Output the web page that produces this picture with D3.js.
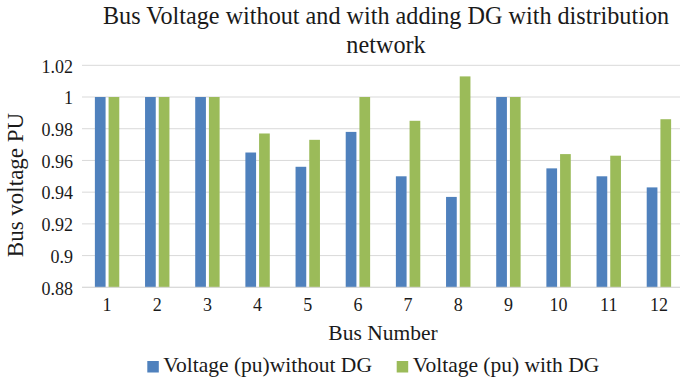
<!DOCTYPE html>
<html>
<head>
<meta charset="utf-8">
<script src="https://cdn.jsdelivr.net/npm/d3@7"></script>
<style>
  body { margin: 0; background: #fff; }
  svg { font-family: "Liberation Serif", "Times New Roman", serif; }
</style>
</head>
<body>
<div id="chart"></div>
<script>
const buses = ["1", "2", "3", "4", "5", "6", "7", "8", "9", "10", "11", "12"];
const withoutDG = [1, 1, 1, 0.965, 0.956, 0.978, 0.95, 0.937, 1, 0.955, 0.95, 0.943];
const withDG = [1, 1, 1, 0.977, 0.973, 1, 0.985, 1.013, 1, 0.964, 0.963, 0.986];
const yTicks = [0.88, 0.9, 0.92, 0.94, 0.96, 0.98, 1, 1.02];
const seriesNames = ["Voltage (pu)without DG", "Voltage (pu) with DG"];
const colors = ["#4f81bd", "#9bbb59"];

const width = 680, height = 382;
const margin = { top: 65.3, right: -4, bottom: 94.7, left: 82 };
const textColor = "#1a1a1a";

const svg = d3.select("#chart").append("svg")
  .attr("width", width)
  .attr("height", height);

const x = d3.scaleBand()
  .domain(buses)
  .range([margin.left, width - margin.right]);

const y = d3.scaleLinear()
  .domain([0.88, 1.02])
  .range([height - margin.bottom, margin.top]);

// gridlines
svg.append("g")
  .selectAll("line")
  .data(yTicks)
  .enter()
  .append("line")
  .attr("x1", margin.left)
  .attr("x2", width - margin.right)
  .attr("y1", d => y(d))
  .attr("y2", d => y(d))
  .attr("stroke", "#d9d9d9")
  .attr("stroke-width", 1);

const barW = 10.7, gap = 3;
const series = [withoutDG, withDG];

series.forEach((vals, s) => {
  svg.append("g")
    .selectAll("rect")
    .data(vals)
    .enter()
    .append("rect")
    .attr("x", (d, i) => x(buses[i]) + x.bandwidth() / 2 - barW - gap / 2 + s * (barW + gap))
    .attr("y", d => y(d))
    .attr("width", barW)
    .attr("height", d => y(0.88) - y(d))
    .attr("fill", colors[s]);
});

// bottom axis line
svg.append("line")
  .attr("x1", margin.left)
  .attr("x2", width - margin.right)
  .attr("y1", y(0.88))
  .attr("y2", y(0.88))
  .attr("stroke", "#d9d9d9")
  .attr("stroke-width", 1);

// y tick labels
const yAxis = svg.append("g")
  .attr("transform", `translate(${margin.left - 6},1)`)
  .call(d3.axisLeft(y).tickValues(yTicks).tickSize(0).tickFormat(d => String(+d.toFixed(2))));
yAxis.select(".domain").remove();
yAxis.selectAll("text")
  .attr("font-family", "Liberation Serif, serif")
  .attr("font-size", 18)
  .attr("fill", textColor);

// x tick labels
const xAxis = svg.append("g")
  .attr("transform", `translate(0,${y(0.88) + 7.5})`)
  .call(d3.axisBottom(x).tickSize(0));
xAxis.select(".domain").remove();
xAxis.selectAll("text")
  .attr("font-family", "Liberation Serif, serif")
  .attr("font-size", 18)
  .attr("fill", textColor);

// title
const title = svg.append("g")
  .attr("font-size", 24.2)
  .attr("fill", textColor)
  .attr("text-anchor", "middle");
title.append("text")
  .attr("x", 386)
  .attr("y", 23.5)
  .text("Bus Voltage without and with adding DG with distribution");
title.append("text")
  .attr("x", 386)
  .attr("y", 52.5)
  .text("network");

// axis titles
svg.append("text")
  .attr("transform", "translate(22.5,185) rotate(-90)")
  .attr("text-anchor", "middle")
  .attr("font-size", 23)
  .attr("fill", textColor)
  .text("Bus voltage PU");

svg.append("text")
  .attr("x", 383)
  .attr("y", 340)
  .attr("text-anchor", "middle")
  .attr("font-size", 21.5)
  .attr("fill", textColor)
  .text("Bus Number");

// legend
const legendX = [147.3, 396.7];
const legend = svg.append("g");
seriesNames.forEach((name, i) => {
  legend.append("rect")
    .attr("x", legendX[i])
    .attr("y", 361)
    .attr("width", 11.5)
    .attr("height", 11.5)
    .attr("fill", colors[i]);
  legend.append("text")
    .attr("x", legendX[i] + 16)
    .attr("y", 371.5)
    .attr("font-size", 21.5)
    .attr("fill", textColor)
    .text(name);
});
</script>
</body>
</html>
